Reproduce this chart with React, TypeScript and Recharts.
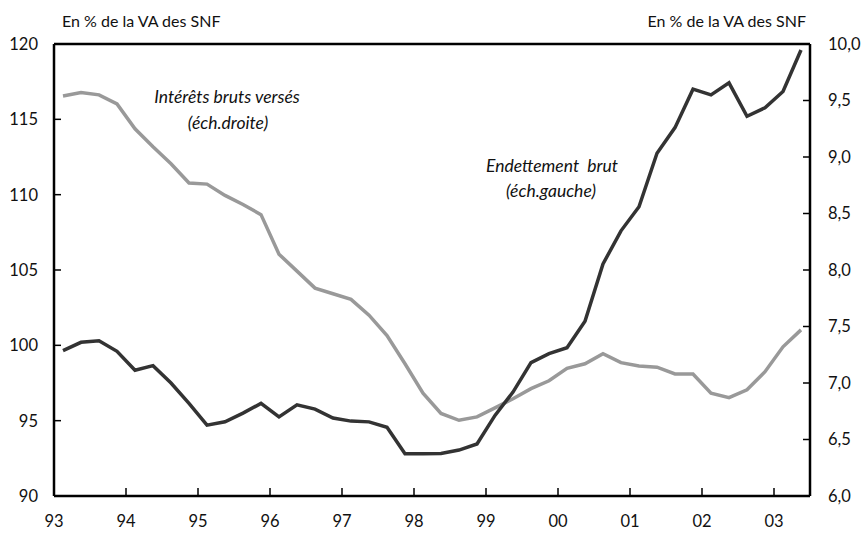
import React from 'react';
import { LineChart, Line, XAxis, YAxis, ReferenceLine } from 'recharts';

// Quarterly data, 1993 Q1 -> 2003 Q2
const yearLabels = ['93', '94', '95', '96', '97', '98', '99', '00', '01', '02', '03'];

// Endettement brut (left scale, % of VA)
const endettement = [
  99.65, 100.2, 100.3, 99.6, 98.35, 98.65, 97.5, 96.15,
  94.7, 94.93, 95.5, 96.15, 95.25, 96.05, 95.77, 95.18,
  94.97, 94.92, 94.56, 92.8, 92.8, 92.82, 93.05, 93.45,
  95.35, 96.9, 98.85, 99.45, 99.84, 101.6, 105.4, 107.6,
  109.2, 112.75, 114.45, 117.0, 116.62, 117.42, 115.2, 115.77,
  116.85, 119.6,
];

// Intérêts bruts versés (right scale, % of VA)
const interets = [
  9.54, 9.57, 9.55, 9.47, 9.25, 9.09, 8.94, 8.77,
  8.76, 8.66, 8.58, 8.49, 8.14, 7.99, 7.84, 7.79,
  7.74, 7.60, 7.42, 7.17, 6.91, 6.73, 6.67, 6.70,
  6.78, 6.86, 6.95, 7.02, 7.13, 7.17, 7.26, 7.18,
  7.15, 7.14, 7.08, 7.08, 6.91, 6.87, 6.94, 7.10,
  7.32, 7.47,
];

const leftTicks = [90, 95, 100, 105, 110, 115, 120];
const rightTicks = [6.0, 6.5, 7.0, 7.5, 8.0, 8.5, 9.0, 9.5, 10.0];
const xTicks = yearLabels.map((_, i) => i * 4);

const data = endettement.map((v, i) => ({
  x: i + 0.5,
  endettement: v,
  interets: interets[i],
}));

const FONT = 'Lato, "Open Sans", sans-serif';
const tickStyle = { fontSize: 16.5, fill: '#111', fontFamily: FONT };

export default function App() {
  return (
    <div style={{ position: 'absolute', left: 0, top: 0, width: 864, height: 534, background: '#fff', fontFamily: FONT }}>
      <LineChart
        width={864}
        height={534}
        data={data}
        margin={{ top: 44, right: 0, left: 0, bottom: 0 }}
      >
        <XAxis
          dataKey="x"
          type="number"
          domain={[0, 42]}
          ticks={xTicks}
          tickFormatter={(v: number) => yearLabels[v / 4]}
          interval={0}
          height={38}
          axisLine={{ stroke: '#000', strokeWidth: 2.5 }}
          tickLine={{ stroke: '#000', strokeWidth: 1.5 }}
          tickSize={-8}
          tickMargin={27}
          tick={tickStyle}
          allowDataOverflow
        />
        <YAxis
          yAxisId="left"
          orientation="left"
          domain={[90, 120]}
          ticks={leftTicks}
          interval={0}
          width={54}
          axisLine={{ stroke: '#000', strokeWidth: 2.5 }}
          tickLine={{ stroke: '#000', strokeWidth: 1.5 }}
          tickSize={-7}
          tickMargin={23}
          tick={tickStyle}
          allowDataOverflow
        />
        <YAxis
          yAxisId="right"
          orientation="right"
          domain={[6, 10]}
          ticks={rightTicks}
          interval={0}
          width={54}
          tickFormatter={(v: number) => v.toFixed(1).replace('.', ',')}
          axisLine={{ stroke: '#000', strokeWidth: 2.5 }}
          tickLine={{ stroke: '#000', strokeWidth: 1.5 }}
          tickSize={-7}
          tickMargin={25}
          tick={tickStyle}
          allowDataOverflow
        />
        <ReferenceLine yAxisId="left" y={120} stroke="#000" strokeWidth={2.5} />
        <Line
          yAxisId="right"
          dataKey="interets"
          stroke="#999999"
          strokeWidth={3.5}
          dot={false}
          isAnimationActive={false}
          strokeLinejoin="miter"
        />
        <Line
          yAxisId="left"
          dataKey="endettement"
          stroke="#333333"
          strokeWidth={3.5}
          dot={false}
          isAnimationActive={false}
          strokeLinejoin="miter"
        />
      </LineChart>

      <div style={{ position: 'absolute', left: 62, top: 11, fontSize: 16, color: '#111', whiteSpace: 'nowrap' }}>
        En % de la VA des SNF
      </div>
      <div style={{ position: 'absolute', right: 864 - 806, top: 11, fontSize: 16, color: '#111', whiteSpace: 'nowrap' }}>
        En % de la VA des SNF
      </div>

      <div style={{ position: 'absolute', left: 227, top: 96, transform: 'translate(-50%, -50%)', fontSize: 17.5, fontStyle: 'italic', color: '#111', whiteSpace: 'nowrap' }}>
        Intérêts bruts versés
      </div>
      <div style={{ position: 'absolute', left: 228, top: 122, transform: 'translate(-50%, -50%)', fontSize: 17.5, fontStyle: 'italic', color: '#111', whiteSpace: 'nowrap' }}>
        (éch.droite)
      </div>
      <div style={{ position: 'absolute', left: 552, top: 165, transform: 'translate(-50%, -50%)', fontSize: 17.5, fontStyle: 'italic', color: '#111', whiteSpace: 'pre' }}>
        {'Endettement  brut'}
      </div>
      <div style={{ position: 'absolute', left: 551, top: 190, transform: 'translate(-50%, -50%)', fontSize: 17.5, fontStyle: 'italic', color: '#111', whiteSpace: 'nowrap' }}>
        (éch.gauche)
      </div>
    </div>
  );
}
